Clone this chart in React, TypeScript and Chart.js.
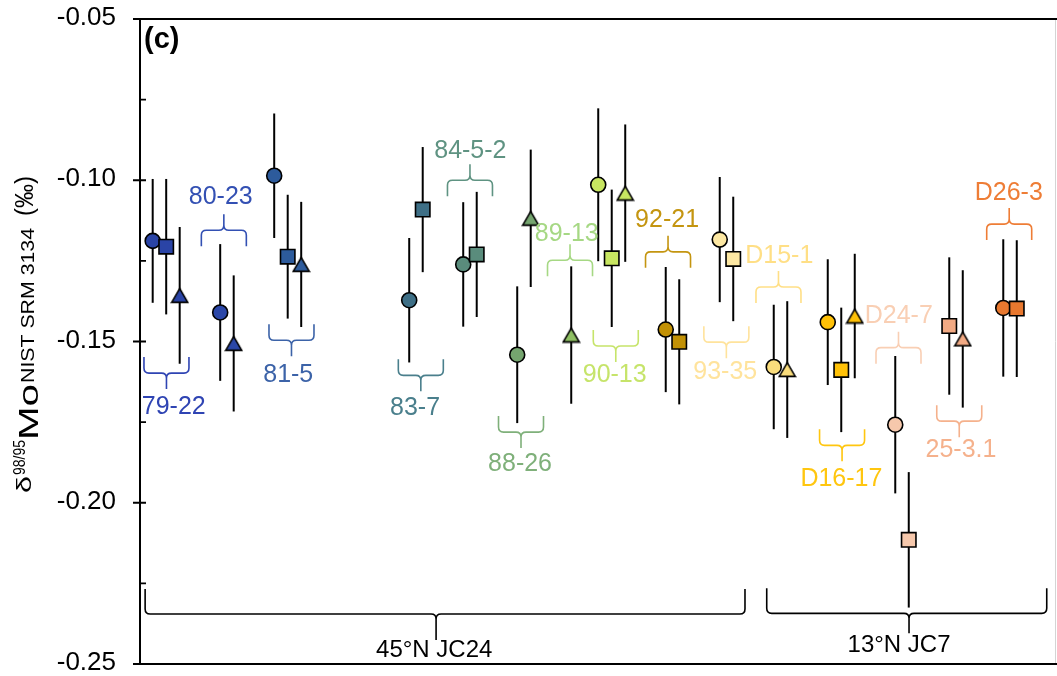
import React, { useEffect, useRef } from 'react';
import { Chart, registerables } from 'chart.js';

Chart.register(...registerables);

const FONT = "'Liberation Sans', Arial, Helvetica, sans-serif";

// ---- samples ----
const samples = ['79-22', '80-23', '81-5', '83-7', '84-5-2', '88-26', '89-13', '90-13', '92-21', '93-35', 'D15-1', 'D16-17', 'D24-7', '25-3.1', 'D26-3'];
const markerColors = ['#2a44a6', '#2b47a8', '#2d5b9c', '#3e6f86', '#5a8c7c', '#75a56f', '#8fc063', '#c8e661', '#c29105', '#fde8a3', '#fadd7c', '#ffc107', '#f6c8ac', '#f2aa84', '#e8782f'];
const labelColors = ['#2f44b3', '#3350b3', '#3c63a8', '#4a7f8c', '#5f9382', '#7fb07a', '#a6d884', '#c6e46a', '#c49510', '#ffe39c', '#ffdf86', '#ffc60f', '#f9cfb4', '#f5b18c', '#ee7d36'];

// ---- measurements ----
const pointSample = [0, 0, 0, 1, 1, 2, 2, 2, 3, 3, 4, 4, 5, 5, 6, 7, 7, 7, 8, 8, 9, 9, 10, 10, 11, 11, 11, 12, 12, 13, 13, 14, 14];
const pointShape = ['circle', 'rect', 'triangle', 'circle', 'triangle', 'circle', 'rect', 'triangle', 'circle', 'rect', 'circle', 'rect', 'circle', 'triangle', 'triangle', 'circle', 'rect', 'triangle', 'circle', 'rect', 'circle', 'rect', 'circle', 'triangle', 'circle', 'rect', 'triangle', 'circle', 'rect', 'rect', 'triangle', 'circle', 'rect'];
const pointPos = [1, 2, 3, 6, 7, 10, 11, 12, 20, 21, 24, 25, 28, 29, 32, 34, 35, 36, 39, 40, 43, 44, 47, 48, 51, 52, 53, 56, 57, 60, 61, 64, 65];
const pointValue = [-0.1188, -0.1206, -0.1357, -0.141, -0.1506, -0.0986, -0.1237, -0.1261, -0.1372, -0.1091, -0.1261, -0.123, -0.1541, -0.1118, -0.148, -0.1014, -0.1242, -0.104, -0.1463, -0.1501, -0.1184, -0.1244, -0.1579, -0.1587, -0.144, -0.1588, -0.1421, -0.1758, -0.2115, -0.1452, -0.1492, -0.1396, -0.1398];
const pointError = [0.0192, 0.021, 0.0212, 0.0212, 0.0211, 0.0193, 0.0192, 0.0194, 0.0193, 0.0194, 0.0193, 0.0194, 0.0212, 0.0213, 0.0213, 0.0237, 0.0213, 0.0213, 0.0194, 0.0194, 0.0194, 0.0193, 0.0193, 0.0212, 0.0195, 0.0193, 0.0193, 0.0213, 0.021, 0.0213, 0.0213, 0.0213, 0.0212];

// ---- sample brackets & labels ----
const bracketSide = ['below', 'above', 'below', 'below', 'above', 'below', 'above', 'below', 'above', 'below', 'above', 'below', 'above', 'below', 'above'];
const bracketPos = [2.02, 6.27, 11.28, 20.86, 24.5, 28.28, 31.91, 35.3, 39.17, 43.49, 47.35, 52.06, 56.24, 60.74, 64.44];
const bracketLevel = [-0.1598, -0.1155, -0.1496, -0.1605, -0.1, -0.1781, -0.1248, -0.1514, -0.1222, -0.1502, -0.1331, -0.1822, -0.1519, -0.1747, -0.1136];
const labelPos = [2.56, 6.04, 11.04, 20.43, 24.53, 28.21, 31.67, 35.22, 39.1, 43.41, 47.41, 52.01, 56.26, 60.87, 64.41];
const labelLevel = [-0.1703, -0.1052, -0.1605, -0.1708, -0.091, -0.1879, -0.1167, -0.1605, -0.1124, -0.1595, -0.1236, -0.1926, -0.1421, -0.1838, -0.1039];

// ---- site brackets ----
const sites = ['45°N JC24', '13°N JC7'];
const siteStart = [0.44, 46.48];
const siteEnd = [44.87, 67.22];
const siteTip = [21.99, 57.02];
const siteLevel = [-0.2345, -0.2343];
const siteLabelPos = [21.85, 56.28];
const siteLabelLevel = [-0.2459, -0.2443];

// ---- axis ----
const yTicks = [-0.05, -0.1, -0.15, -0.2, -0.25];
const yTickLabels = ['-0.05', '-0.10', '-0.15', '-0.20', '-0.25'];
const yMinorTicks = [-0.075, -0.125, -0.175, -0.225];
const panelLabel = '(c)';

const radiusFor: Record<string, number> = { circle: 7.5, rect: 10.2, triangle: 9 };

function makeTriangle(fill: string): HTMLCanvasElement {
  const w = 16;
  const h = 13.8;
  const pad = 1.5;
  const c = document.createElement('canvas');
  c.width = Math.ceil(w + 2 * pad);
  c.height = Math.ceil(h + 2 * pad);
  const g = c.getContext('2d') as CanvasRenderingContext2D;
  const cx = c.width / 2;
  const cy = c.height / 2;
  g.beginPath();
  g.moveTo(cx, cy - h / 2);
  g.lineTo(cx + w / 2, cy + h / 2);
  g.lineTo(cx - w / 2, cy + h / 2);
  g.closePath();
  g.fillStyle = fill;
  g.fill();
  g.lineWidth = 1.6;
  g.lineJoin = 'miter';
  g.strokeStyle = '#000';
  g.stroke();
  return c;
}

function brace(ctx: CanvasRenderingContext2D, x0: number, x1: number, xc: number, y: number, dir: number, arm: number, tip: number) {
  const rc = 5;
  const rt = 5;
  ctx.beginPath();
  ctx.moveTo(x0, y - dir * arm);
  ctx.lineTo(x0, y - dir * rc);
  ctx.quadraticCurveTo(x0, y, x0 + rc, y);
  ctx.lineTo(xc - rt, y);
  ctx.quadraticCurveTo(xc, y, xc, y + dir * rt);
  ctx.lineTo(xc, y + dir * tip);
  ctx.moveTo(x1, y - dir * arm);
  ctx.lineTo(x1, y - dir * rc);
  ctx.quadraticCurveTo(x1, y, x1 - rc, y);
  ctx.lineTo(xc + rt, y);
  ctx.quadraticCurveTo(xc, y, xc, y + dir * rt);
  ctx.stroke();
}

const decor = {
  id: 'decor',
  beforeDatasetsDraw(chart: any) {
    const { ctx, scales } = chart;
    const xs = scales.x;
    const ys = scales.y;
    ctx.save();
    ctx.strokeStyle = '#000';
    ctx.lineWidth = 2;
    for (let i = 0; i < pointValue.length; i++) {
      const x = xs.getPixelForValue(pointPos[i]);
      ctx.beginPath();
      ctx.moveTo(x, ys.getPixelForValue(pointValue[i] + pointError[i]));
      ctx.lineTo(x, ys.getPixelForValue(pointValue[i] - pointError[i]));
      ctx.stroke();
    }
    ctx.restore();
  },
  afterDraw(chart: any) {
    const { ctx, scales, chartArea } = chart;
    const xs = scales.x;
    const ys = scales.y;
    const { left, right, top, bottom } = chartArea;
    ctx.save();

    // frame
    ctx.strokeStyle = '#d4d4d4';
    ctx.lineWidth = 1;
    ctx.beginPath();
    ctx.moveTo(right - 1.5, top);
    ctx.lineTo(right - 1.5, bottom);
    ctx.stroke();
    ctx.strokeStyle = '#000';
    ctx.lineWidth = 2;
    ctx.beginPath();
    ctx.moveTo(left, top);
    ctx.lineTo(right, top);
    ctx.moveTo(left - 7, bottom);
    ctx.lineTo(right, bottom);
    ctx.moveTo(left, top);
    ctx.lineTo(left, bottom);
    ctx.stroke();

    // ticks
    ctx.lineWidth = 1.8;
    ctx.beginPath();
    yTicks.forEach((v) => {
      const y = ys.getPixelForValue(v);
      ctx.moveTo(left - 7, y);
      ctx.lineTo(left + 6, y);
    });
    yMinorTicks.forEach((v) => {
      const y = ys.getPixelForValue(v);
      ctx.moveTo(left, y);
      ctx.lineTo(left + 6, y);
    });
    ctx.stroke();

    ctx.fillStyle = '#000';
    ctx.font = `26px ${FONT}`;
    ctx.textAlign = 'right';
    ctx.textBaseline = 'middle';
    yTicks.forEach((v, i) => {
      ctx.fillText(yTickLabels[i], left - 24, ys.getPixelForValue(v) - 1);
    });

    // panel label
    ctx.font = `bold 29px ${FONT}`;
    ctx.textAlign = 'left';
    ctx.fillText(panelLabel, left + 4, top + 21);

    // sample brackets
    ctx.lineWidth = 1.6;
    ctx.textAlign = 'center';
    ctx.textBaseline = 'middle';
    ctx.font = `25px ${FONT}`;
    samples.forEach((s, i) => {
      const xc = xs.getPixelForValue(bracketPos[i]);
      const y = ys.getPixelForValue(bracketLevel[i]);
      const dir = bracketSide[i] === 'below' ? 1 : -1;
      ctx.strokeStyle = labelColors[i];
      brace(ctx, xc - 22.5, xc + 22.5, xc, y, dir, 16, 16);
      ctx.fillStyle = labelColors[i];
      ctx.fillText(s, xs.getPixelForValue(labelPos[i]), ys.getPixelForValue(labelLevel[i]));
    });

    // site brackets
    ctx.strokeStyle = '#000';
    ctx.fillStyle = '#000';
    ctx.lineWidth = 1.6;
    ctx.font = `24px ${FONT}`;
    sites.forEach((s, i) => {
      const y = ys.getPixelForValue(siteLevel[i]);
      brace(ctx, xs.getPixelForValue(siteStart[i]), xs.getPixelForValue(siteEnd[i]), xs.getPixelForValue(siteTip[i]), y, 1, 25, i === 0 ? 26 : 20);
      ctx.fillText(s, xs.getPixelForValue(siteLabelPos[i]), ys.getPixelForValue(siteLabelLevel[i]));
    });

    // y-axis title (rotated)
    ctx.translate(38, 493);
    ctx.rotate(-Math.PI / 2);
    ctx.textAlign = 'left';
    ctx.textBaseline = 'alphabetic';
    ctx.fillStyle = '#000';
    const pieces: [string, string, number, number, number][] = [
      ['δ', `21px ${FONT}`, 0, 17, -7],
      ['98/95', `16px ${FONT}`, 18, 35, -13],
      ['Mo', `28px ${FONT}`, 53, 56, 0],
      ['NIST SRM 3134', `18px ${FONT}`, 110, 155, -4],
      ['(‰)', `26px ${FONT}`, 277, 40, -5],
    ];
    pieces.forEach(([t, f, start, len, base]) => {
      ctx.font = f;
      const w = ctx.measureText(t).width;
      ctx.save();
      ctx.translate(start, base);
      ctx.scale(len / w, 1);
      ctx.fillText(t, 0, 0);
      ctx.restore();
    });

    ctx.restore();
  },
};

export default function App() {
  const canvasRef = useRef<HTMLCanvasElement | null>(null);

  useEffect(() => {
    document.body.style.margin = '0';
    const canvas = canvasRef.current;
    if (!canvas) return;
    const triangles = markerColors.map((c) => makeTriangle(c));
    const datasets = samples.map((s, si) => {
      const idx = pointSample.map((p, i) => (p === si ? i : -1)).filter((i) => i >= 0);
      return {
        label: s,
        data: idx.map((i) => ({ x: pointPos[i], y: pointValue[i] })),
        pointStyle: idx.map((i) => (pointShape[i] === 'triangle' ? triangles[si] : pointShape[i])),
        pointRadius: idx.map((i) => radiusFor[pointShape[i]]),
        pointBackgroundColor: markerColors[si],
        pointBorderColor: '#000',
        pointBorderWidth: 1.6,
        showLine: false,
      };
    });
    const chart = new Chart(canvas, {
      type: 'scatter',
      data: { datasets } as any,
      options: {
        responsive: false,
        animation: false,
        devicePixelRatio: 1,
        layout: { autoPadding: false, padding: { left: 140, top: 19, right: 0, bottom: 12 } },
        scales: {
          x: { type: 'linear', min: 0.06, max: 67.98, display: false },
          y: { type: 'linear', min: -0.25, max: -0.05, display: false },
        },
        plugins: { legend: { display: false }, tooltip: { enabled: false } },
      } as any,
      plugins: [decor],
    });
    return () => chart.destroy();
  }, []);

  return (
    <div style={{ position: 'absolute', left: 0, top: 0, width: 1057, height: 676, background: '#fff' }}>
      <canvas ref={canvasRef} width={1057} height={676} style={{ display: 'block' }} />
    </div>
  );
}
